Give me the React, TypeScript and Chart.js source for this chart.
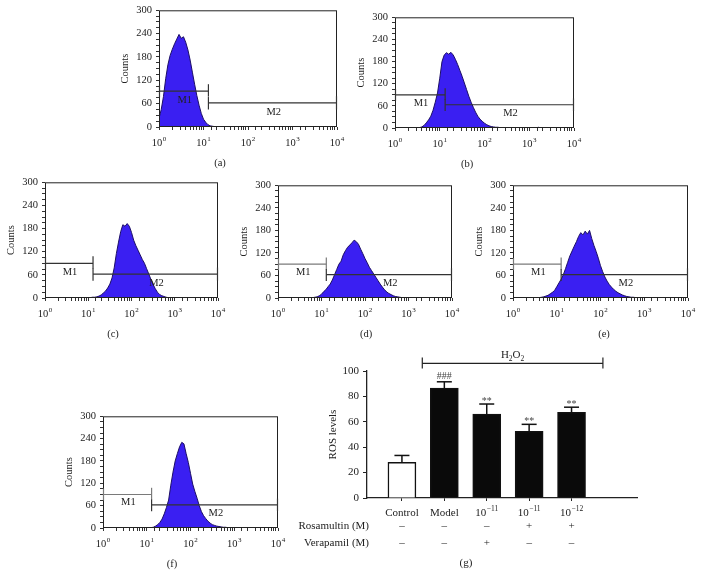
import React, { useEffect, useRef } from 'react';
import { Chart, registerables } from 'chart.js';

Chart.register(...registerables);

const FONT = '"Liberation Serif", "Times New Roman", Times, serif';
Chart.defaults.font.family = FONT;
Chart.defaults.color = '#222';

// ---------- Flow cytometry histograms (a)-(f) ----------
// fluorescence channels, 0.05-decade bins from 10^0 to 10^4
const CHANNELS = [
  1, 1.122, 1.259, 1.413, 1.585, 1.778, 1.995, 2.239, 2.512, 2.818, 3.162, 3.548, 3.981, 4.467, 5.012, 5.623, 6.31, 7.079, 7.943, 8.913,
  10, 11.22, 12.59, 14.13, 15.85, 17.78, 19.95, 22.39, 25.12, 28.18, 31.62, 35.48, 39.81, 44.67, 50.12, 56.23, 63.1, 70.79, 79.43, 89.13,
  100, 112.2, 125.9, 141.3, 158.5, 177.8, 199.5, 223.9, 251.2, 281.8, 316.2, 354.8, 398.1, 446.7, 501.2, 562.3, 631, 707.9, 794.3, 891.3,
  1000, 1122, 1259, 1413, 1585, 1778, 1995, 2239, 2512, 2818, 3162, 3548, 3981, 4467, 5012, 5623, 6310, 7079, 7943, 8913,
  10000,
];

const COUNTS_A = [
  22, 45, 78, 124, 160, 184, 200, 214, 226, 238, 228, 232, 218, 198, 172, 141, 110, 81, 56, 35,
  20, 12, 6, 3, 2, 1, 1, 1, 0, 0, 0, 0, 0, 0, 0, 0, 0, 0, 0, 0,
  0, 0, 0, 0, 0, 0, 0, 0, 0, 0, 0, 0, 0, 0, 0, 0, 0, 0, 0, 0,
  0, 0, 0, 0, 0, 0, 0, 0, 0, 0, 0, 0, 0, 0, 0, 0, 0, 0, 0, 0,
  0,
];
const COUNTS_B = [
  0, 0, 0, 0, 0, 0, 1, 0, 0, 0, 0, 1, 3, 7, 14, 22, 32, 48, 70, 95,
  135, 180, 198, 204, 200, 205, 198, 186, 172, 156, 140, 122, 104, 86, 70, 56, 43, 32, 24, 18,
  13, 9, 6, 4, 3, 2, 2, 1, 1, 0, 0, 0, 0, 0, 0, 0, 0, 0, 0, 0,
  0, 0, 0, 0, 2, 0, 0, 0, 0, 0, 0, 0, 0, 0, 0, 0, 0, 0, 0, 0,
  0,
];
const COUNTS_C = [
  0, 0, 0, 0, 0, 1, 0, 0, 0, 0, 0, 0, 1, 0, 0, 0, 0, 0, 0, 0,
  1, 1, 2, 2, 3, 5, 8, 13, 18, 26, 36, 52, 78, 115, 145, 172, 190, 186, 193, 186,
  170, 150, 136, 124, 112, 100, 90, 76, 62, 48, 35, 24, 15, 9, 6, 4, 2, 1, 1, 0,
  0, 0, 0, 0, 0, 0, 0, 0, 0, 0, 0, 0, 0, 0, 0, 0, 0, 0, 0, 0,
  0,
];
const COUNTS_D = [
  0, 0, 0, 0, 0, 0, 0, 0, 0, 0, 0, 0, 0, 0, 0, 0, 1, 2, 3, 6,
  10, 17, 22, 30, 37, 48, 62, 76, 90, 98, 115, 126, 135, 141, 147, 154, 150, 143, 130, 118,
  105, 94, 82, 73, 64, 55, 46, 37, 29, 22, 16, 12, 9, 6, 4, 3, 2, 1, 1, 0,
  0, 0, 0, 0, 1, 0, 0, 0, 0, 0, 0, 0, 0, 0, 0, 0, 0, 0, 0, 0,
  0,
];
const COUNTS_E = [
  0, 0, 0, 0, 0, 0, 0, 0, 0, 0, 0, 0, 1, 2, 3, 5, 7, 11, 15, 20,
  30, 40, 50, 62, 78, 95, 112, 125, 138, 150, 164, 174, 168, 178, 170, 180, 158, 140, 124, 106,
  86, 70, 56, 45, 36, 29, 23, 18, 14, 11, 8, 6, 4, 3, 2, 2, 1, 1, 1, 0,
  0, 0, 0, 0, 0, 0, 0, 0, 0, 0, 0, 0, 0, 0, 0, 0, 0, 0, 0, 0,
  0,
];
const COUNTS_F = [
  0, 0, 0, 0, 0, 0, 0, 0, 0, 0, 0, 0, 0, 0, 0, 0, 0, 0, 0, 0,
  0, 0, 1, 2, 5, 9, 15, 24, 38, 55, 75, 115, 150, 180, 200, 218, 230, 226, 200, 176,
  147, 118, 98, 80, 60, 44, 33, 25, 18, 13, 9, 7, 5, 4, 3, 2, 2, 1, 1, 0,
  0, 0, 0, 0, 0, 0, 0, 0, 0, 0, 0, 0, 0, 0, 0, 0, 0, 0, 0, 0,
  0,
];
const HIST_COUNTS = [COUNTS_A, COUNTS_B, COUNTS_C, COUNTS_D, COUNTS_E, COUNTS_F];
const PANEL_NAMES = ['(a)', '(b)', '(c)', '(d)', '(e)', '(f)'];

const COUNT_TICKS = [0, 60, 120, 180, 240, 300];
const DECADE_TICKS = [1, 10, 100, 1000, 10000];
const DECADE_EXP = ['0', '1', '2', '3', '4'];

// marker gates M1 / M2
const GATE_SPLIT = [12.9, 13.2, 12.9, 12.9, 12.6, 12.9];
const M1_LEVEL = [92, 90, 90, 90, 90, 90];
const M2_LEVEL = [62, 63, 62, 62, 62, 62];
const M1_LABEL_AT = [3.8, 68];
const M2_LABEL_AT = [380, 39];

// ---------- ROS bar chart (g) ----------
const GROUPS = ['Control', 'Model', '10^\u221211', '10^\u221211', '10^\u221212'];
const GROUP_POS = [1, 2, 3, 4, 5];
const ROS_MEAN = [28, 86.5, 66, 52.5, 67.5];
const ROS_SD = [5.5, 5, 8, 5.5, 4];
const ROS_SIG = ['', '###', '**', '**', '**'];
const ROSAMULTIN = ['\u2013', '\u2013', '\u2013', '+', '+'];
const VERAPAMIL = ['\u2013', '\u2013', '+', '\u2013', '\u2013'];
const ROS_TICKS = [0, 20, 40, 60, 80, 100];
const H2O2_SPAN = [1.48, 5.74];
const H2O2_LEVEL = 106;

// ---------- layout (page pixels) ----------
const PANELS = [
  { L: 159, R: 337, T: 10, B: 127, labelX: 220 },
  { L: 395, R: 574, T: 17, B: 128, labelX: 467 },
  { L: 45, R: 218, T: 182, B: 298, labelX: 113 },
  { L: 278, R: 452, T: 185, B: 298, labelX: 366 },
  { L: 513, R: 688, T: 185, B: 298, labelX: 604 },
  { L: 103, R: 278, T: 416, B: 528, labelX: 172 },
];
const Y_W = 44;
const PAD_T = 10;
const PAD_R = 10;
const X_H = 45;

function line(ctx: CanvasRenderingContext2D, x1: number, y1: number, x2: number, y2: number) {
  ctx.beginPath();
  ctx.moveTo(x1, y1);
  ctx.lineTo(x2, y2);
  ctx.stroke();
}

function drawSup(ctx: CanvasRenderingContext2D, base: string, exp: string, cx: number, baseline: number, size: number, expSize: number, rise: number) {
  ctx.font = `${size}px ${FONT}`;
  const wb = ctx.measureText(base).width;
  ctx.font = `${expSize}px ${FONT}`;
  const we = ctx.measureText(exp).width;
  const start = cx - (wb + we + 0.5) / 2;
  ctx.textAlign = 'left';
  ctx.textBaseline = 'alphabetic';
  ctx.font = `${size}px ${FONT}`;
  ctx.fillText(base, start, baseline);
  ctx.font = `${expSize}px ${FONT}`;
  ctx.fillText(exp, start + wb + 0.5, baseline - rise);
}

function histPlugin(idx: number, labelX: number) {
  return {
    id: 'histDecor' + idx,
    afterDraw(chart: any) {
      const { ctx, chartArea: a, scales } = chart;
      const x = scales.x;
      const y = scales.y;
      ctx.save();
      // frame
      ctx.strokeStyle = '#222';
      ctx.lineWidth = 1;
      ctx.strokeRect(a.left + 0.5, a.top + 0.5, a.right - a.left - 1, a.bottom - a.top - 1);

      // gates
      const x0 = x.getPixelForValue(1);
      const xs = x.getPixelForValue(GATE_SPLIT[idx]);
      const x1 = x.getPixelForValue(10000);
      const m1 = M1_LEVEL[idx];
      const m2 = M2_LEVEL[idx];
      const m1Color = idx >= 3 ? '#7a7a7a' : '#333';
      ctx.lineWidth = 1.2;
      ctx.strokeStyle = m1Color;
      line(ctx, x0, y.getPixelForValue(m1), xs, y.getPixelForValue(m1));
      line(ctx, x0 + 0.5, y.getPixelForValue(m1 + 16), x0 + 0.5, y.getPixelForValue(m1 - 16));
      line(ctx, xs, y.getPixelForValue(m1 + 18), xs, y.getPixelForValue(m1 - 14));
      ctx.strokeStyle = '#333';
      line(ctx, xs, y.getPixelForValue(m2), x1, y.getPixelForValue(m2));
      line(ctx, xs, y.getPixelForValue(m2 + 15), xs, y.getPixelForValue(m2 - 17));
      line(ctx, x1 - 0.5, y.getPixelForValue(m2 + 17), x1 - 0.5, y.getPixelForValue(m2 - 17));

      ctx.fillStyle = '#222';
      ctx.font = `10.5px ${FONT}`;
      ctx.textAlign = 'center';
      ctx.textBaseline = 'middle';
      ctx.fillText('M1', x.getPixelForValue(M1_LABEL_AT[0]), y.getPixelForValue(M1_LABEL_AT[1]));
      ctx.fillText('M2', x.getPixelForValue(M2_LABEL_AT[0]), y.getPixelForValue(M2_LABEL_AT[1]));

      // decade labels
      DECADE_TICKS.forEach((v, i) => {
        drawSup(ctx, '10', DECADE_EXP[i], x.getPixelForValue(v), a.bottom + 19, 10.5, 7, 5);
      });

      // panel letter
      ctx.font = `10.5px ${FONT}`;
      ctx.textAlign = 'center';
      ctx.textBaseline = 'middle';
      ctx.fillText(PANEL_NAMES[idx], labelX, a.bottom + 36);
      ctx.restore();
    },
  };
}

function Histogram({ idx }: { idx: number }) {
  const ref = useRef<HTMLCanvasElement>(null);
  const p = PANELS[idx];
  const left = p.L - Y_W;
  const top = p.T - PAD_T;
  const width = p.R - p.L + Y_W + PAD_R;
  const height = p.B - p.T + PAD_T + X_H;
  useEffect(() => {
    const counts = HIST_COUNTS[idx];
    const chart = new Chart(ref.current as HTMLCanvasElement, {
      type: 'line',
      data: {
        datasets: [
          {
            data: CHANNELS.map((c, i) => ({ x: c, y: counts[i] })),
            fill: 'origin',
            backgroundColor: '#3a1ff2',
            borderColor: '#1d0f66',
            borderWidth: 1,
            pointRadius: 0,
            tension: 0,
          },
        ],
      },
      options: {
        responsive: false,
        animation: false,
        devicePixelRatio: 1,
        layout: { padding: { left: 0, top: PAD_T, right: PAD_R, bottom: 0 } },
        plugins: { legend: { display: false }, tooltip: { enabled: false } },
        scales: {
          x: {
            type: 'logarithmic',
            min: 1,
            max: 10000,
            afterFit: (s: any) => { s.height = X_H; },
            ticks: { callback: () => '', autoSkip: false, maxRotation: 0 },
            grid: { drawOnChartArea: false, tickLength: 3, color: '#333' },
            border: { display: false },
          },
          y: {
            type: 'linear',
            min: 0,
            max: 300,
            afterFit: (s: any) => { s.width = Y_W; },
            ticks: {
              stepSize: 15,
              autoSkip: false,
              padding: 4,
              color: '#222',
              font: { family: FONT, size: 10.5 },
              callback: (v: any) => (COUNT_TICKS.includes(Number(v)) ? String(v) : ''),
            },
            grid: { drawOnChartArea: false, tickLength: 3, color: '#333' },
            border: { display: false },
            title: { display: true, text: 'Counts', color: '#222', font: { family: FONT, size: 10.5 } },
          },
        },
      } as any,
      plugins: [histPlugin(idx, p.labelX - left)],
    });
    return () => chart.destroy();
  }, []);
  return (
    <canvas
      ref={ref}
      width={width}
      height={height}
      style={{ position: 'absolute', left, top, width, height }}
    />
  );
}

// ---------- bar chart ----------
const G = { left: 280, top: 345, width: 367, height: 242, padTop: 26, padRight: 10, yW: 87, xH: 89, labelX: 466 };

const rosPlugin = {
  id: 'rosDecor',
  afterDraw(chart: any) {
    const { ctx, chartArea: a, scales } = chart;
    const x = scales.x;
    const y = scales.y;
    ctx.save();
    // error bars + significance
    ctx.strokeStyle = '#111';
    ctx.lineWidth = 1.5;
    GROUP_POS.forEach((g, i) => {
      const px = x.getPixelForValue(g);
      const yTop = y.getPixelForValue(ROS_MEAN[i]);
      const yErr = y.getPixelForValue(ROS_MEAN[i] + ROS_SD[i]);
      line(ctx, px, yTop, px, yErr);
      line(ctx, px - 7.5, yErr, px + 7.5, yErr);
      if (ROS_SIG[i]) {
        ctx.fillStyle = '#444';
        ctx.font = `10px ${FONT}`;
        ctx.textAlign = 'center';
        ctx.textBaseline = 'alphabetic';
        ctx.fillText(ROS_SIG[i], px, yErr - (ROS_SIG[i] === '###' ? 3 : 0));
      }
    });

    // H2O2 bracket
    const bx0 = x.getPixelForValue(H2O2_SPAN[0]);
    const bx1 = x.getPixelForValue(H2O2_SPAN[1]);
    const by = y.getPixelForValue(H2O2_LEVEL);
    ctx.lineWidth = 1.2;
    ctx.strokeStyle = '#222';
    line(ctx, bx0, by, bx1, by);
    line(ctx, bx0, by - 6, bx0, by + 5);
    line(ctx, bx1, by - 6, bx1, by + 5);
    {
      const parts: [string, number, number][] = [['H', 11, 0], ['2', 7.5, 3], ['O', 11, 0], ['2', 7.5, 3]];
      let total = 0;
      parts.forEach(([t, s]) => { ctx.font = `${s}px ${FONT}`; total += ctx.measureText(t).width; });
      let cx = (bx0 + bx1) / 2 - total / 2;
      ctx.fillStyle = '#222';
      ctx.textAlign = 'left';
      ctx.textBaseline = 'alphabetic';
      parts.forEach(([t, s, d]) => {
        ctx.font = `${s}px ${FONT}`;
        ctx.fillText(t, cx, by - 5 + d);
        cx += ctx.measureText(t).width;
      });
    }

    // category labels
    ctx.fillStyle = '#222';
    GROUP_POS.forEach((g, i) => {
      const px = x.getPixelForValue(g);
      const lab = GROUPS[i];
      if (lab.includes('^')) {
        const [b, e] = lab.split('^');
        drawSup(ctx, b, e, px, a.bottom + 17.5, 11, 7.5, 5);
      } else {
        ctx.font = `11px ${FONT}`;
        ctx.textAlign = 'center';
        ctx.textBaseline = 'alphabetic';
        ctx.fillText(lab, px, a.bottom + 17.5);
      }
    });

    // treatment rows
    const rows: [string, string[], number][] = [
      ['Rosamultin (M)', ROSAMULTIN, a.bottom + 30.5],
      ['Verapamil (M)', VERAPAMIL, a.bottom + 48],
    ];
    rows.forEach(([name, signs, base]) => {
      ctx.font = `11px ${FONT}`;
      ctx.textAlign = 'right';
      ctx.textBaseline = 'alphabetic';
      ctx.fillText(name, a.left + 2, base);
      ctx.textAlign = 'center';
      signs.forEach((s, i) => ctx.fillText(s, x.getPixelForValue(GROUP_POS[i]), base));
    });

    // y title
    ctx.save();
    ctx.translate(a.left - 34, (a.top + a.bottom) / 2);
    ctx.rotate(-Math.PI / 2);
    ctx.font = `11px ${FONT}`;
    ctx.textAlign = 'center';
    ctx.textBaseline = 'middle';
    ctx.fillText('ROS levels', 0, 0);
    ctx.restore();

    // panel letter
    ctx.font = `11px ${FONT}`;
    ctx.textAlign = 'center';
    ctx.textBaseline = 'middle';
    ctx.fillText('(g)', G.labelX - G.left, a.bottom + 65);
    ctx.restore();
  },
};

function RosChart() {
  const ref = useRef<HTMLCanvasElement>(null);
  useEffect(() => {
    const chart = new Chart(ref.current as HTMLCanvasElement, {
      type: 'bar',
      data: {
        datasets: [
          {
            data: ROS_MEAN.map((v, i) => ({ x: GROUP_POS[i], y: v })),
            backgroundColor: ROS_MEAN.map((_, i) => (i === 0 ? '#ffffff' : '#0a0a0a')),
            borderColor: '#111',
            borderWidth: 1.5,
            barThickness: 28,
          },
        ],
      },
      options: {
        responsive: false,
        animation: false,
        devicePixelRatio: 1,
        layout: { padding: { left: 0, top: G.padTop, right: G.padRight, bottom: 0 } },
        plugins: { legend: { display: false }, tooltip: { enabled: false } },
        scales: {
          x: {
            type: 'linear',
            min: 0.176,
            max: 6.544,
            offset: false,
            afterBuildTicks: (s: any) => { s.ticks = GROUP_POS.map((v) => ({ value: v })); },
            afterFit: (s: any) => { s.height = G.xH; },
            ticks: { callback: () => '', autoSkip: false, maxRotation: 0 },
            grid: { drawOnChartArea: false, tickLength: 3, color: '#222', offset: false },
            border: { display: true, color: '#222', width: 1.3 },
          },
          y: {
            type: 'linear',
            min: 0,
            max: 100,
            afterFit: (s: any) => { s.width = G.yW; },
            afterBuildTicks: (s: any) => { s.ticks = ROS_TICKS.map((v) => ({ value: v })); },
            ticks: { padding: 4, color: '#222', font: { family: FONT, size: 11 } },
            grid: { drawOnChartArea: false, tickLength: 4, color: '#222' },
            border: { display: true, color: '#222', width: 1.3 },
          },
        },
      } as any,
      plugins: [rosPlugin],
    });
    return () => chart.destroy();
  }, []);
  return (
    <canvas
      ref={ref}
      width={G.width}
      height={G.height}
      style={{ position: 'absolute', left: G.left, top: G.top, width: G.width, height: G.height }}
    />
  );
}

export default function App() {
  return (
    <div style={{ position: 'absolute', left: 0, top: 0, width: 701, height: 587, background: '#ffffff', overflow: 'hidden' }}>
      {PANELS.map((_, i) => (
        <Histogram key={i} idx={i} />
      ))}
      <RosChart />
    </div>
  );
}
